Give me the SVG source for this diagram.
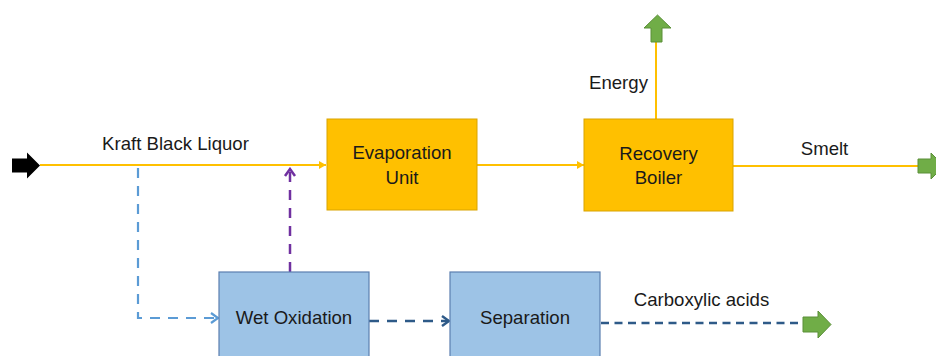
<svg xmlns="http://www.w3.org/2000/svg" width="936" height="356" viewBox="0 0 936 356">
  <style>
    .lbl { font-family: "Liberation Sans", Arial, sans-serif; font-size: 18.6px; fill: #1a1a1a; text-anchor: middle; }
    .ybox { fill: #FFC000; stroke: #D9A400; stroke-width: 1; }
    .bbox { fill: #9DC3E6; stroke: #5B7FB0; stroke-width: 1.2; }
    .yline { stroke: #FFC000; stroke-width: 2; fill: none; }
    .green { fill: #70AD47; stroke: #5A8F38; stroke-width: 1; }
  </style>
  <defs>
    <marker id="ya" viewBox="-8 -5 9 10" refX="0" refY="0" markerWidth="9" markerHeight="10" markerUnits="userSpaceOnUse" orient="auto">
      <path d="M-7,-4 L0,0 L-7,4 z" fill="#FFC000"/>
    </marker>
    <marker id="lb" viewBox="-10 -7 12 14" refX="0" refY="0" markerWidth="12" markerHeight="14" markerUnits="userSpaceOnUse" orient="auto">
      <path d="M-7,-5 L0,0 L-7,5" fill="none" stroke="#5B9BD5" stroke-width="2.2"/>
    </marker>
    <marker id="pu" viewBox="-10 -7 12 14" refX="0" refY="0" markerWidth="12" markerHeight="14" markerUnits="userSpaceOnUse" orient="auto">
      <path d="M-7,-5 L0,0 L-7,5" fill="none" stroke="#7030A0" stroke-width="2.5"/>
    </marker>
    <marker id="db" viewBox="-10 -7 12 14" refX="0" refY="0" markerWidth="12" markerHeight="14" markerUnits="userSpaceOnUse" orient="auto">
      <path d="M-7,-5 L0,0 L-7,5" fill="none" stroke="#2E5A88" stroke-width="2.5"/>
    </marker>
  </defs>

  <g id="connectors">
    <polygon id="input-arrow" points="12,158.5 27,158.5 27,152.5 40,165.5 27,178.5 27,172.5 12,172.5" fill="#000"/>
    <line class="yline" x1="40" y1="165" x2="326" y2="165" marker-end="url(#ya)"/>
    <line class="yline" x1="477" y1="165" x2="584" y2="165" marker-end="url(#ya)"/>
    <line class="yline" x1="656" y1="119" x2="656" y2="42"/>
    <line class="yline" x1="733" y1="166" x2="918" y2="166"/>
    <path d="M138,168 V318 H218" fill="none" stroke="#5B9BD5" stroke-width="2.2" stroke-dasharray="10 8" marker-end="url(#lb)"/>
    <line x1="290" y1="272" x2="290" y2="169" stroke="#7030A0" stroke-width="2.5" stroke-dasharray="10 8" marker-end="url(#pu)"/>
    <line x1="369" y1="321" x2="449" y2="321" stroke="#2E5A88" stroke-width="2.5" stroke-dasharray="10 8" marker-end="url(#db)"/>
    <line x1="601" y1="323" x2="803" y2="323" stroke="#2E5A88" stroke-width="2.5" stroke-dasharray="8 5.5"/>
    <polygon class="green" points="651,42 662,42 662,28 671,28 657.5,15 644,28 651,28"/>
    <polygon class="green" points="918,159 931,159 931,153 944,166 931,179 931,173 918,173"/>
    <polygon class="green" points="803,317 818,317 818,311 831,324.5 818,338 818,332 803,332"/>
    <text class="lbl" x="175.5" y="150">Kraft Black Liquor</text>
    <text class="lbl" x="618.5" y="89">Energy</text>
    <text class="lbl" x="824.5" y="155">Smelt</text>
    <text class="lbl" x="701.5" y="306">Carboxylic acids</text>
  </g>

  <g id="evaporation-unit">
    <rect class="ybox" x="327" y="119" width="150" height="91"/>
    <text class="lbl" x="402" y="159">Evaporation</text>
    <text class="lbl" x="402" y="184">Unit</text>
  </g>

  <g id="recovery-boiler">
    <rect class="ybox" x="584" y="119" width="149" height="92"/>
    <text class="lbl" x="658.5" y="160">Recovery</text>
    <text class="lbl" x="658.5" y="184">Boiler</text>
  </g>

  <g id="wet-oxidation">
    <rect class="bbox" x="219" y="272" width="150" height="100"/>
    <text class="lbl" x="294" y="324">Wet Oxidation</text>
  </g>

  <g id="separation">
    <rect class="bbox" x="450" y="272" width="150" height="100"/>
    <text class="lbl" x="525" y="324">Separation</text>
  </g>
</svg>
